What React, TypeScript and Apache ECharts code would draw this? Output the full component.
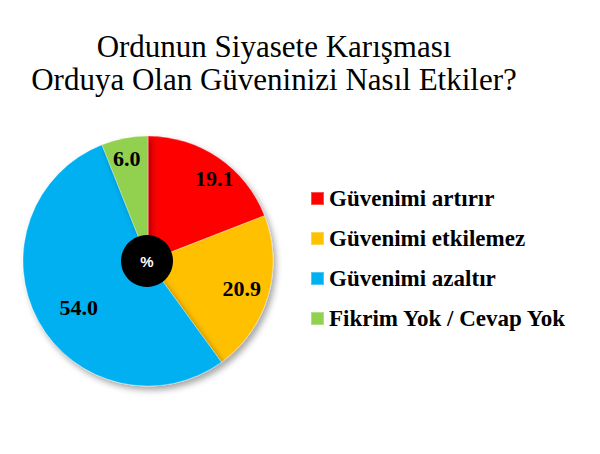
import React, { useEffect, useRef } from 'react';
import * as echarts from 'echarts';

const titleText = 'Ordunun Siyasete Karışması\nOrduya Olan Güveninizi Nasıl Etkiler?';
const categories = ['Güvenimi artırır', 'Güvenimi etkilemez', 'Güvenimi azaltır', 'Fikrim Yok / Cevap Yok'];
const values = [19.1, 20.9, 54.0, 6.0];
const colors = ['#ff0000', '#ffc000', '#00b0f0', '#92d050'];
const centerLabel = '%';

const SERIF = 'Liberation Serif';

// small nudges so labels sit where the original placed them
const labelNudges = [
  [8, 3],
  [-5, -2],
  [21, -3],
  [-2, -1],
];

const App: React.FC = () => {
  const chartRef = useRef<HTMLDivElement>(null);

  useEffect(() => {
    document.body.style.margin = '0';
    if (!chartRef.current) return;
    const chart = echarts.init(chartRef.current, undefined, { renderer: 'svg' });

    const data = categories.map((name, i) => ({
      name,
      value: values[i],
      itemStyle: { color: colors[i] },
    }));

    const option: echarts.EChartsOption = {
      animation: false,
      backgroundColor: '#ffffff',
      title: {
        text: titleText,
        left: 274,
        top: 30,
        padding: 0,
        textAlign: 'center',
        textStyle: {
          fontFamily: SERIF,
          fontWeight: 'normal',
          fontSize: 31,
          lineHeight: 33,
          color: '#000',
        },
      },
      legend: {
        orient: 'vertical',
        left: 310,
        top: 187,
        padding: 0,
        icon: 'rect',
        itemWidth: 13,
        itemHeight: 13,
        itemGap: 17,
        data: categories,
        textStyle: {
          fontFamily: SERIF,
          fontWeight: 'bold',
          fontSize: 23,
          color: '#000',
        },
      },
      graphic: [
        {
          type: 'circle',
          shape: { cx: 147, cy: 261, r: 26 },
          style: { fill: '#000' },
          z: 100,
        },
        {
          type: 'text',
          x: 147,
          y: 261,
          z: 101,
          style: {
            text: centerLabel,
            align: 'center',
            verticalAlign: 'middle',
            fontFamily: 'Liberation Sans',
            fontWeight: 'bold',
            fontSize: 15,
            fill: '#fff',
          },
        },
      ],
      series: [
        {
          type: 'pie',
          center: [148, 261],
          radius: [0, 125],
          startAngle: 90,
          clockwise: true,
          label: { show: false },
          labelLine: { show: false },
          itemStyle: {
            borderColor: 'rgba(255,255,255,0.3)',
            borderWidth: 1,
            shadowBlur: 6,
            shadowOffsetX: 3,
            shadowOffsetY: 4,
            shadowColor: 'rgba(0,0,0,0.35)',
          },
          data,
        },
        {
          type: 'pie',
          center: [148, 261],
          radius: [75, 125],
          startAngle: 90,
          clockwise: true,
          silent: true,
          itemStyle: { color: 'transparent' },
          labelLine: { show: false },
          label: {
            show: true,
            position: 'inside',
            formatter: (p: any) => Number(p.value).toFixed(1),
            fontFamily: SERIF,
            fontWeight: 'bold',
            fontSize: 22,
            color: '#000',
          },
          labelLayout: (p: any) => ({
            dx: labelNudges[p.dataIndex][0],
            dy: labelNudges[p.dataIndex][1],
          }),
          data: categories.map((name, i) => ({ name, value: values[i] })),
        },
      ],
    };

    chart.setOption(option);
    return () => {
      chart.dispose();
    };
  }, []);

  return <div ref={chartRef} style={{ width: 600, height: 454 }} />;
};

export default App;
